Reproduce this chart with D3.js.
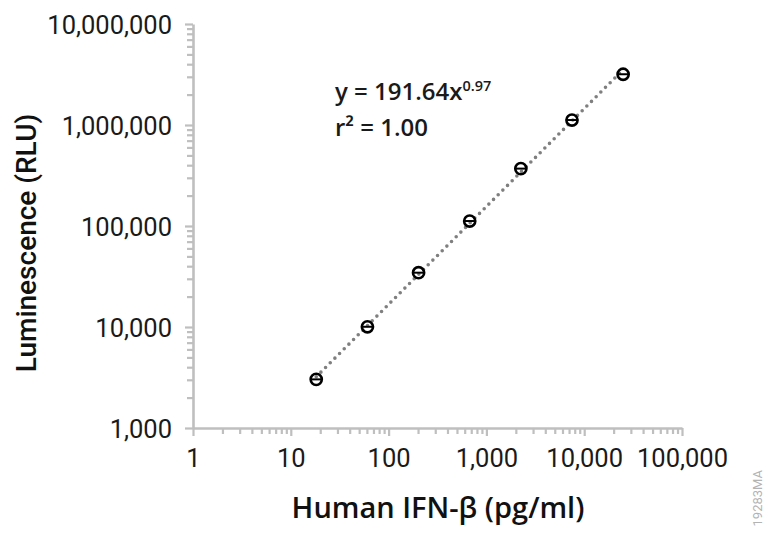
<!DOCTYPE html>
<html>
<head>
<meta charset="utf-8">
<script src="https://cdn.jsdelivr.net/npm/d3@7"></script>
<style>
  body { margin: 0; background: #fff; }
  svg { display: block; }
</style>
</head>
<body>
<div id="container"></div>
<script>
var w = 764;
var h = 534;

// dilution series (pg/ml) and luminescence (RLU)
var conc = [18.2, 60.75, 202.5, 675, 2250, 7500, 25000];
var rlu = [3030, 10050, 34500, 112000, 370000, 1120000, 3180000];
var xTicks = [1, 10, 100, 1000, 10000, 100000];
var yTicks = [1000, 10000, 100000, 1000000, 10000000];
var eqText = "y = 191.64x";
var eqExp = "0.97";
var r2Text = "r² = 1.00";

var svg = d3.select("div#container")
    .append("svg")
    .attr("width", w)
    .attr("height", h)
    .style("background-color", "#fff");

var x = d3.scaleLog().domain([1, 100000]).range([193, 682]);
var y = d3.scaleLog().domain([1000, 10000000]).range([428, 24]);

// minor ticks 2..9 for every decade
function minors(ticks) {
  var out = [];
  ticks.slice(0, -1).forEach(t => { for (var k = 2; k < 10; k++) out.push(t * k); });
  return out;
}

var fmt = d3.format(",");
var axisColor = "#bfbfbf";

// minor ticks first
svg.append("g")
    .attr("transform", "translate(0,428)")
    .call(d3.axisBottom(x).tickValues(minors(xTicks)).tickSize(6).tickSizeOuter(0).tickFormat(""))
    .call(g => g.select(".domain").remove());
svg.append("g")
    .attr("transform", "translate(193,0)")
    .call(d3.axisLeft(y).tickValues(minors(yTicks)).tickSize(6).tickSizeOuter(0).tickFormat(""))
    .call(g => g.select(".domain").remove());

var gx = svg.append("g")
    .attr("transform", "translate(0,428)")
    .call(d3.axisBottom(x).tickValues(xTicks).tickSize(8).tickSizeOuter(0).tickPadding(13).tickFormat(fmt));
var gy = svg.append("g")
    .attr("transform", "translate(193,0)")
    .call(d3.axisLeft(y).tickValues(yTicks).tickSize(8).tickSizeOuter(0).tickPadding(13).tickFormat(fmt));

svg.selectAll(".tick line").attr("stroke", axisColor).attr("stroke-width", 2.2);
svg.selectAll(".domain").attr("stroke", axisColor).attr("stroke-width", 2.6);
svg.selectAll(".tick text")
    .attr("fill", "#1a1a1a")
    .style("font-family", "Roboto, sans-serif")
    .style("font-size", "25.5px");
gy.selectAll(".tick text").attr("dy", "0.36em");

// power trendline from a least squares fit in log space
var lx = conc.map(Math.log10), ly = rlu.map(Math.log10);
var mx = d3.mean(lx), my = d3.mean(ly);
var slope = d3.sum(lx, (v, i) => (v - mx) * (ly[i] - my)) / d3.sum(lx, v => (v - mx) * (v - mx));
var icpt = my - slope * mx;
var xs = d3.extent(conc);
svg.append("line")
    .attr("x1", x(xs[0])).attr("y1", y(Math.pow(10, icpt + slope * Math.log10(xs[0]))))
    .attr("x2", x(xs[1])).attr("y2", y(Math.pow(10, icpt + slope * Math.log10(xs[1]))))
    .attr("stroke", "#7f7f7f")
    .attr("stroke-width", 3.6)
    .attr("stroke-linecap", "round")
    .attr("stroke-dasharray", "0 6.6");

// markers
var pts = svg.append("g").selectAll("g")
    .data(conc)
    .enter()
    .append("g")
    .attr("transform", (d, i) => `translate(${x(d)},${y(rlu[i])})`);
pts.append("circle")
    .attr("r", 5.6)
    .attr("fill", "none")
    .attr("stroke", "#000")
    .attr("stroke-width", 2.6);
pts.append("line")
    .attr("x1", -5).attr("x2", 5)
    .attr("stroke", "#000")
    .attr("stroke-width", 2);

// equation
var eq = svg.append("text")
    .attr("x", 335).attr("y", 100)
    .attr("fill", "#1a1a1a")
    .style("font-family", "'Open Sans', sans-serif")
    .style("font-weight", 600)
    .style("font-size", "24px");
eq.append("tspan").text(eqText);
eq.append("tspan").attr("dy", -9).style("font-size", "14.5px").text(eqExp);
svg.append("text")
    .attr("x", 335).attr("y", 136)
    .attr("fill", "#1a1a1a")
    .style("font-family", "'Open Sans', sans-serif")
    .style("font-weight", 600)
    .style("font-size", "24px")
    .text(r2Text);

// axis titles
svg.append("text")
    .attr("transform", "translate(36,243) rotate(-90)")
    .attr("text-anchor", "middle")
    .attr("fill", "#111")
    .style("font-family", "Roboto, sans-serif")
    .style("font-weight", 500)
    .style("font-size", "28px")
    .text("Luminescence (RLU)");
svg.append("text")
    .attr("x", 438).attr("y", 518)
    .attr("text-anchor", "middle")
    .attr("fill", "#111")
    .style("font-family", "'Open Sans', sans-serif")
    .style("font-weight", 600)
    .style("font-size", "29px")
    .text("Human IFN-β (pg/ml)");

// figure code
svg.append("text")
    .attr("transform", "translate(762,470) rotate(-90)")
    .attr("text-anchor", "end")
    .attr("fill", "#b3b3b3")
    .style("font-family", "Roboto, sans-serif")
    .style("font-size", "13px")
    .text("19283MA");
</script>
</body>
</html>
